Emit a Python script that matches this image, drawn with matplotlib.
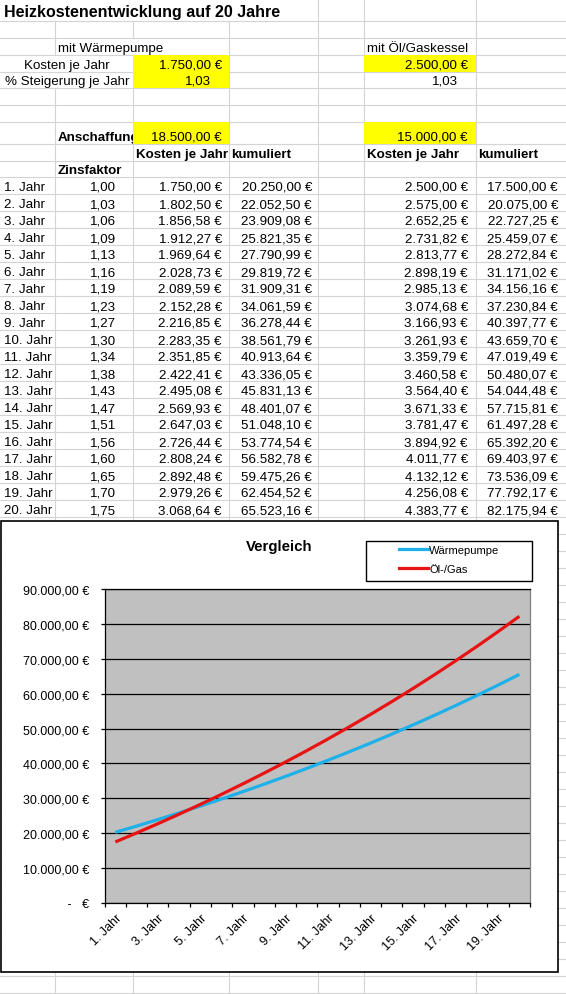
import numpy as np
import matplotlib
matplotlib.use('Agg')
import matplotlib.pyplot as plt
from matplotlib.patches import Rectangle
from matplotlib.lines import Line2D
from matplotlib.ticker import FuncFormatter

plt.rcParams['font.family'] = ['Liberation Sans', 'DejaVu Sans']

# data from the sheet
jahre = ['%d. Jahr' % i for i in range(1, 21)]
zinsfaktor = [1.00, 1.03, 1.06, 1.09, 1.13, 1.16, 1.19, 1.23, 1.27, 1.30,
              1.34, 1.38, 1.43, 1.47, 1.51, 1.56, 1.60, 1.65, 1.70, 1.75]
wp_kosten = [1750.00, 1802.50, 1856.58, 1912.27, 1969.64, 2028.73, 2089.59, 2152.28, 2216.85, 2283.35,
             2351.85, 2422.41, 2495.08, 2569.93, 2647.03, 2726.44, 2808.24, 2892.48, 2979.26, 3068.64]
wp_kum = [20250.00, 22052.50, 23909.08, 25821.35, 27790.99, 29819.72, 31909.31, 34061.59, 36278.44, 38561.79,
          40913.64, 43336.05, 45831.13, 48401.07, 51048.10, 53774.54, 56582.78, 59475.26, 62454.52, 65523.16]
oel_kosten = [2500.00, 2575.00, 2652.25, 2731.82, 2813.77, 2898.19, 2985.13, 3074.68, 3166.93, 3261.93,
              3359.79, 3460.58, 3564.40, 3671.33, 3781.47, 3894.92, 4011.77, 4132.12, 4256.08, 4383.77]
oel_kum = [17500.00, 20075.00, 22727.25, 25459.07, 28272.84, 31171.02, 34156.16, 37230.84, 40397.77, 43659.70,
           47019.49, 50480.07, 54044.48, 57715.81, 61497.28, 65392.20, 69403.97, 73536.09, 77792.17, 82175.94]
wp_jahr, wp_steig, wp_anschaffung = 1750.00, 1.03, 18500.00
oel_jahr, oel_steig, oel_anschaffung = 2500.00, 1.03, 15000.00


def de(v, dec=2):
    s = f'{v:,.{dec}f}'
    return s.replace(',', 'X').replace('.', ',').replace('X', '.')


def eur(v):
    return de(v) + ' €'


W, H = 566, 995
fig = plt.figure(figsize=(W / 100, H / 100), dpi=100)
bg = fig.add_axes([0, 0, 1, 1])
bg.set_xlim(0, W)
bg.set_ylim(H, 0)
bg.axis('off')

# sheet grid
rows = [(0, 22), (22, 39), (39, 56), (56, 73), (73, 89), (89, 106), (106, 123),
        (123, 145), (145, 162), (162, 178)]
y = 178
while y < H:
    rows.append((y, y + 17))
    y += 17
cols = [55, 133, 229, 318, 364, 476]
grid_c = '#d4d4d4'
skip = {0: [55, 133, 229], 2: [133], 3: [55], 4: [55]}
for i, (t, b) in enumerate(rows):
    bg.plot([0, W], [b, b], color=grid_c, lw=0.8, zorder=0)
    for c in cols:
        if c in skip.get(i, []):
            continue
        bg.plot([c, c], [t, b], color=grid_c, lw=0.8, zorder=0)

yellow = '#ffff00'
for (x0, x1, t, b) in [(133, 229, 56, 89), (364, 476, 56, 73), (133, 229, 123, 145), (364, 476, 123, 145)]:
    bg.add_patch(Rectangle((x0, t), x1 - x0, b - t, facecolor=yellow, edgecolor='none', zorder=2))

fs = 9.6


def cell(x, base, s, ha='left', bold=False, size=fs, z=3):
    bg.text(x, base, s, ha=ha, va='baseline', fontsize=size,
            fontweight='bold' if bold else 'normal', zorder=z)


cell(4, 17.5, 'Heizkostenentwicklung auf 20 Jahre', bold=True, size=11.5)
cell(58, 52, 'mit Wärmepumpe')
cell(367, 52, 'mit Öl/Gaskessel')
cell(67, 69, 'Kosten je Jahr', ha='center')
cell(67, 85, '% Steigerung je Jahr', ha='center')
cell(222, 69, eur(wp_jahr), ha='right')
cell(211, 85, de(wp_steig), ha='right')
cell(468, 69, eur(oel_jahr), ha='right')
cell(458, 85, de(oel_steig), ha='right')
cell(58, 141, 'Anschaffung', bold=True, z=1)
cell(222, 141, eur(wp_anschaffung), ha='right')
cell(468, 141, eur(oel_anschaffung), ha='right')
cell(136, 158, 'Kosten je Jahr', bold=True)
cell(231, 158, 'kumuliert', bold=True)
cell(367, 158, 'Kosten je Jahr', bold=True)
cell(478, 158, 'kumuliert', bold=True)
cell(58, 174, 'Zinsfaktor', bold=True)
for k in range(20):
    base = 195 + 17 * k - 4
    cell(4, base, jahre[k])
    cell(116, base, de(zinsfaktor[k]), ha='right')
    cell(222, base, eur(wp_kosten[k]), ha='right')
    cell(312, base, eur(wp_kum[k]), ha='right')
    cell(468, base, eur(oel_kosten[k]), ha='right')
    cell(558, base, eur(oel_kum[k]), ha='right')

# chart frame
bg.add_patch(Rectangle((0.5, 522), 557.5, 451, facecolor='white', edgecolor='black', lw=1.2, zorder=5))
bg.text(279, 547, 'Vergleich', ha='center', va='center', fontsize=10.8, fontweight='bold', zorder=6)
bg.add_patch(Rectangle((366, 542), 166, 40, facecolor='white', edgecolor='black', lw=1.0, zorder=6))

blue = '#1eb0e8'
red = '#e81414'

ax = fig.add_axes([104.7 / W, 1 - 904 / H, 425.3 / W, 314 / H])
ax.set_facecolor('#c0c0c0')
xs = np.arange(20) + 0.5
ax.plot(xs, wp_kum, color=blue, lw=2.3, solid_capstyle='butt', zorder=3)
ax.plot(xs, oel_kum, color=red, lw=2.3, solid_capstyle='butt', zorder=4)
ax.set_xlim(0, 20)
ax.set_ylim(0, 90000)
ax.set_yticks(np.arange(0, 90001, 10000))
ax.yaxis.set_major_formatter(FuncFormatter(lambda v, p: ' -   €' if v == 0 else eur(v)))
ax.grid(axis='y', color='black', lw=0.9)
ax.set_axisbelow(True)
ax.set_xticks(np.arange(21))
ax.set_xticklabels([])
ax.set_xticks(xs[::2], minor=True)
ax.set_xticklabels(jahre[::2], minor=True, rotation=45, ha='right', va='top', rotation_mode='anchor')
ax.tick_params(axis='x', which='major', length=3, width=0.9, color='black')
ax.tick_params(axis='x', which='minor', length=0, pad=6, labelsize=9)
ax.tick_params(axis='y', length=3, width=0.9, pad=8, labelsize=9)
for s in ['left', 'bottom', 'top']:
    ax.spines[s].set_color('black')
    ax.spines[s].set_linewidth(0.9)
ax.spines['right'].set_color('#808080')
ax.spines['right'].set_linewidth(0.9)

handles = [Line2D([], [], color=blue, lw=2.3), Line2D([], [], color=red, lw=2.3)]
fig.legend(handles, ['Wärmepumpe', 'Öl-/Gas'], loc='upper left',
           bbox_to_anchor=(399 / W, 1 - 546 / H), frameon=False, borderpad=0,
           borderaxespad=0, fontsize=8, handlelength=2.6, handletextpad=0.1,
           labelspacing=0.78)

fig.savefig('out.png', dpi=100)
